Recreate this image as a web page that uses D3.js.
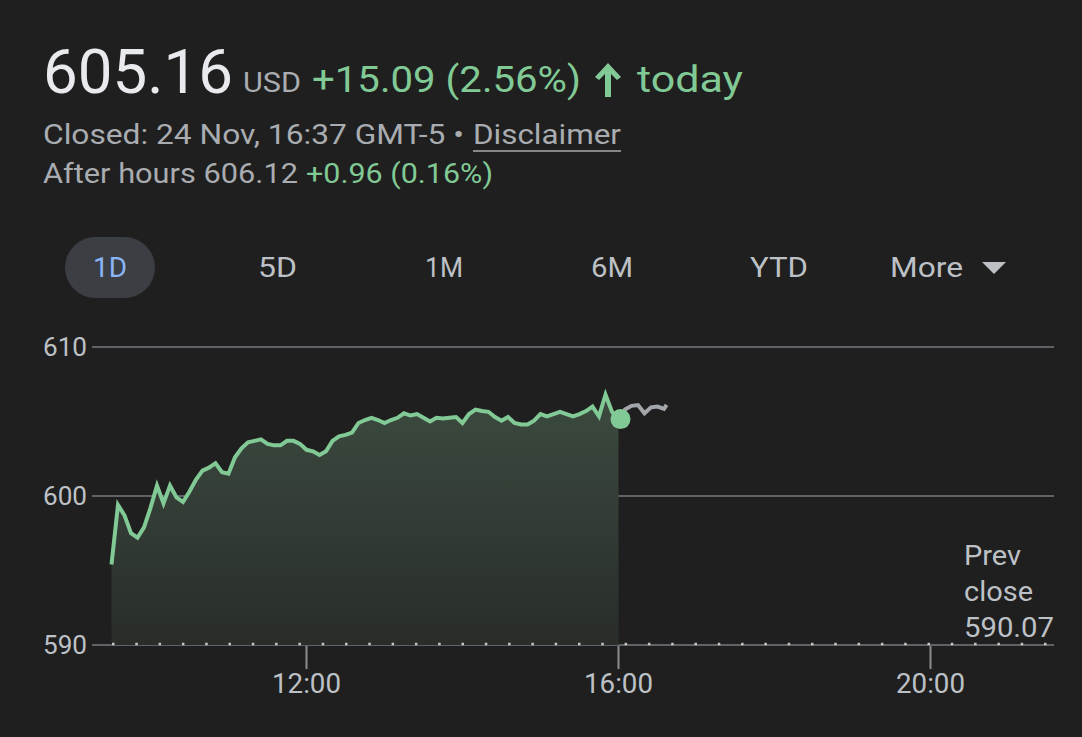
<!DOCTYPE html>
<html><head><meta charset="utf-8">
<script src="https://cdn.jsdelivr.net/npm/d3@7"></script>
<style>
html,body{margin:0;padding:0;background:#1f1f1f;}
svg{display:block;font-family:Roboto,"Noto Sans",sans-serif;}
</style></head>
<body>
<svg id="c" width="1082" height="737"></svg>
<script>
// ---- data ----
const times = ["9:30","9:35","9:40","9:45","9:50","9:55","10:00","10:05","10:10","10:15","10:20","10:25","10:30","10:35","10:40","10:45","10:50","10:55",
"11:00","11:05","11:10","11:15","11:20","11:25","11:30","11:35","11:40","11:45","11:50","11:55","12:00","12:05","12:10","12:15","12:20","12:25","12:30","12:35","12:40","12:45","12:50","12:55",
"13:00","13:05","13:10","13:15","13:20","13:25","13:30","13:35","13:40","13:45","13:50","13:55","14:00","14:05","14:10","14:15","14:20","14:25","14:30","14:35","14:40","14:45","14:50","14:55",
"15:00","15:05","15:10","15:15","15:20","15:25","15:30","15:35","15:40","15:45","15:50","15:55","16:00"];
const prices = [595.4,599.4,598.7,597.5,597.2,597.9,599.2,600.7,599.5,600.7,599.9,599.6,600.3,601.1,601.7,601.9,602.2,601.6,
601.5,602.6,603.2,603.6,603.7,603.8,603.5,603.4,603.4,603.7,603.7,603.5,603.1,603.0,602.75,603.0,603.7,604.0,604.1,604.25,604.9,605.1,605.25,605.1,
604.9,605.1,605.25,605.55,605.4,605.5,605.25,605.0,605.25,605.2,605.25,605.3,604.9,605.5,605.8,605.7,605.65,605.3,605.05,605.3,604.9,604.8,604.8,605.05,
605.5,605.35,605.5,605.65,605.5,605.35,605.5,605.7,606.0,605.35,606.8,605.65,605.16];
const afterTimes = ["16:00","16:05","16:10","16:15","16:20","16:25","16:30","16:35","16:37"];
const afterPrices = [605.16,605.8,606.05,606.1,605.55,605.95,606.0,605.85,606.12];
const prevClose = 590.07;
const yTicks = [590,600,610];
const xTicks = ["12:00","16:00","20:00"];
const tabs = ["1D","5D","1M","6M","YTD","More"];

const toMin = s => { const [h,m] = s.split(":").map(Number); return h*60+m; };

const svg = d3.select("#c");
svg.append("rect").attr("width",1082).attr("height",737).attr("fill","#1f1f1f");

// ---- header ----
const GREEN = "#81c995", GRAY = "#bdc1c6", GRAY2 = "#a9acb0";
function txt(s, x, y, size, fill, w, anchor){
  const t = svg.append("text").attr("x",x).attr("y",y).attr("font-size",size).attr("fill",fill).text(s);
  if (w) t.attr("textLength",w).attr("lengthAdjust","spacingAndGlyphs");
  if (anchor) t.attr("text-anchor",anchor);
  return t;
}
txt("605.16",43,93,62,"#e8eaed",190);
txt("USD",243,92,27,GRAY2,58);
txt("+15.09 (2.56%)",312,92,37,GREEN,269);
// arrow up
svg.append("path").attr("d","M608,63 L595,77 L599,80 L605,74 L605,97 L611,97 L611,74 L617,80 L621,77 Z").attr("fill",GREEN);
txt("today",637,92,37,GREEN,106);

txt("Closed: 24 Nov, 16:37 GMT-5 \u2022",43,144,27,GRAY2,421);
txt("Disclaimer",473,144,27,GRAY2,148);
svg.append("line").attr("x1",473).attr("x2",621).attr("y1",151).attr("y2",151).attr("stroke",GRAY2).attr("stroke-width",1.5);
txt("After hours 606.12",43,183,27,GRAY2,255);
txt("+0.96 (0.16%)",306,183,27,GREEN,187);

// ---- tabs ----
const tabX = [93,258,425,591,750,890];
const tabW = [34,39,38,42,58,73];
svg.append("rect").attr("x",65).attr("y",237).attr("width",90).attr("height",61).attr("rx",30.5).attr("fill","#3b3e42");
tabs.forEach((t,i)=>{
  txt(t, tabX[i], 277, 28, i===0 ? "#8ab4f8" : GRAY, tabW[i]);
});
svg.append("path").attr("d","M982,262 L1006,262 L994,274 Z").attr("fill",GRAY);

// ---- chart ----
const x = d3.scaleLinear().domain([555,1295]).range([92,1054]);
const y = d3.scaleLinear().domain([590,610]).range([645,347]);

// grid
svg.append("g").selectAll("line").data(yTicks).join("line")
  .attr("x1",92).attr("x2",1054).attr("y1",d=>y(d)).attr("y2",d=>y(d))
  .attr("stroke","#5f6368").attr("stroke-width",2);
yTicks.forEach(d=> txt(String(d),43,y(d)+9,26,GRAY,44));

// area gradient
const defs = svg.append("defs");
const grad = defs.append("linearGradient").attr("id","g").attr("x1",0).attr("y1",0).attr("x2",0).attr("y2",1);
grad.append("stop").attr("offset","0%").attr("stop-color","#3b4a3f");
grad.append("stop").attr("offset","100%").attr("stop-color","#292d2a");

const pts = times.map((t,i)=>({t:toMin(t), v:prices[i]}));
const apts = afterTimes.map((t,i)=>({t:toMin(t), v:afterPrices[i]}));

svg.append("path").datum(pts)
  .attr("d", d3.area().x(d=>x(d.t)).y0(y(590)).y1(d=>y(d.v)))
  .attr("fill","url(#g)");

// prev close dotted line
svg.append("line").attr("x1",112).attr("x2",1054).attr("y1",y(prevClose)).attr("y2",y(prevClose))
  .attr("stroke","#c4c7c5").attr("stroke-width",2.5).attr("stroke-dasharray","2.5,20.8");

// x ticks
svg.append("g").selectAll("line").data(xTicks).join("line")
  .attr("x1",d=>x(toMin(d))).attr("x2",d=>x(toMin(d))).attr("y1",646).attr("y2",669)
  .attr("stroke","#8a8d91").attr("stroke-width",2);
xTicks.forEach(d=> txt(d, x(toMin(d)), 693, 27, GRAY, 69, "middle"));

// lines
svg.append("path").datum(apts)
  .attr("d", d3.line().x(d=>x(d.t)).y(d=>y(d.v)))
  .attr("fill","none").attr("stroke","#a3a6ab").attr("stroke-width",4).attr("stroke-linejoin","miter");
svg.append("path").datum(pts)
  .attr("d", d3.line().x(d=>x(d.t)).y(d=>y(d.v)))
  .attr("fill","none").attr("stroke",GREEN).attr("stroke-width",4).attr("stroke-linejoin","miter");

const last = pts[pts.length-1];
svg.append("circle").attr("cx",x(last.t)+2).attr("cy",y(last.v)).attr("r",10).attr("fill",GREEN);

// prev close label
const pcW = [57,69,90];
["Prev","close",String(prevClose)].forEach((s,i)=> txt(s,964,565+i*36,27,GRAY,pcW[i]));
</script>
</body></html>
